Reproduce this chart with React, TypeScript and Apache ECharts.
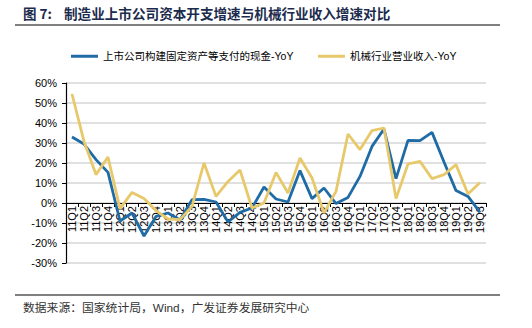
import React, { useEffect, useRef } from "react";
import * as echarts from "echarts";

const categories = [
  "11Q1", "11Q2", "11Q3", "11Q4",
  "12Q1", "12Q2", "12Q3", "12Q4",
  "13Q1", "13Q2", "13Q3", "13Q4",
  "14Q1", "14Q2", "14Q3", "14Q4",
  "15Q1", "15Q2", "15Q3", "15Q4",
  "16Q1", "16Q2", "16Q3", "16Q4",
  "17Q1", "17Q2", "17Q3", "17Q4",
  "18Q1", "18Q2", "18Q3", "18Q4",
  "19Q1", "19Q2", "19Q3",
];

const capexName = "上市公司构建固定资产等支付的现金-YoY";
const revenueName = "机械行业营业收入-YoY";

const capexYoY = [
  33, 29.5, 21.7, 15.3,
  -9, -5, -16.5, -6.7,
  -5, -8.5, 1.7, 1.8,
  0.5, -9.5, -4.7, -2.5,
  8, 2, 0.5, 16.2,
  2.2, 7.5, -0.3, 2.8,
  13.3, 28.3, 37, 12.2,
  31.3, 31.2, 35.3, 20.5,
  6.2, 3.3, -4.7,
];

const revenueYoY = [
  54.5, 30.8, 14.2, 23,
  -2.8, 5.3, 2.2, -3.8,
  -8, -8.3, -1.7, 20,
  3.3, 10.8, 16.5, -2.5,
  0, 15.3, 5, 22.5,
  12.5, -5, 5.8, 34.5,
  26.7, 36.2, 37.5, 2.2,
  19.5, 20.8, 12.2, 14.2,
  19.2, 4.5, 10.3,
];

const yTicks = { min: -30, max: 60, interval: 10 };

const FONT = "'Liberation Sans', Arial, 'Noto Sans CJK SC', sans-serif";
const BLUE = "#1F6BA6";
const YELLOW = "#E7C96C";

const GRID_TOP = 83;
const GRID_BOTTOM = 65;
const CHART_H = 328;

export default function App() {
  const ref = useRef<HTMLDivElement>(null);

  useEffect(() => {
    if (!ref.current) return;
    const chart = echarts.init(ref.current, undefined, { renderer: "svg" });
    const plotH = CHART_H - GRID_TOP - GRID_BOTTOM;
    // move the category axis up to the zero value line
    const zeroOffset = -plotH * (0 - yTicks.min) / (yTicks.max - yTicks.min);
    const legendBase = {
      top: 51,
      itemWidth: 27,
      itemHeight: 3,
      itemGap: 5,
      icon: "rect",
      padding: 0,
      textStyle: { fontSize: 10.5, color: "#000", fontFamily: FONT },
    };
    chart.setOption({
      animation: false,
      backgroundColor: "#fff",
      textStyle: { fontFamily: FONT },
      legend: [
        { ...legendBase, left: 71, data: [capexName] },
        { ...legendBase, left: 318, data: [revenueName] },
      ],
      grid: { left: 66, right: 46, top: GRID_TOP, bottom: GRID_BOTTOM, containLabel: false },
      xAxis: {
        type: "category",
        data: categories,
        boundaryGap: true,
        position: "bottom",
        offset: zeroOffset,
        axisLine: { onZero: false, lineStyle: { color: "#000", width: 1.2 } },
        axisTick: { show: true, length: 4, inside: false, lineStyle: { color: "#000" } },
        axisLabel: {
          rotate: 90,
          interval: 0,
          fontSize: 11,
          color: "#000",
          margin: 3,
          fontFamily: FONT,
        },
        splitLine: { show: false },
        z: 1,
      },
      yAxis: {
        type: "value",
        min: yTicks.min,
        max: yTicks.max,
        interval: yTicks.interval,
        axisLine: { show: true, lineStyle: { color: "#000", width: 1.2 } },
        axisTick: { show: true, length: 4, lineStyle: { color: "#000" } },
        axisLabel: {
          formatter: "{value}%",
          fontSize: 11,
          color: "#000",
          margin: 9,
          fontFamily: FONT,
        },
        splitLine: { show: true, lineStyle: { color: "#D6D6D6", width: 1.5 } },
      },
      series: [
        {
          name: capexName,
          type: "line",
          data: capexYoY,
          symbol: "none",
          color: BLUE,
          z: 3,
          lineStyle: { color: BLUE, width: 2.8 },
        },
        {
          name: revenueName,
          type: "line",
          data: revenueYoY,
          symbol: "none",
          color: YELLOW,
          z: 3,
          lineStyle: { color: YELLOW, width: 2.8 },
        },
      ],
      graphic: [
        {
          type: "text",
          left: 23,
          top: 6,
          style: {
            text: "图 7:",
            fontSize: 13.5,
            fontWeight: "bold",
            fill: "#1B2B4D",
            fontFamily: "'Noto Sans CJK SC', sans-serif",
          },
        },
        {
          type: "text",
          left: 64,
          top: 6,
          style: {
            text: "制造业上市公司资本开支增速与机械行业收入增速对比",
            fontSize: 13.6,
            fontWeight: "bold",
            fill: "#1B2B4D",
            fontFamily: "'Noto Sans CJK SC', sans-serif",
          },
        },
        {
          type: "line",
          shape: { x1: 15, y1: 25, x2: 500, y2: 25 },
          style: { stroke: "#000", lineWidth: 1.2 },
        },
        {
          type: "line",
          shape: { x1: 15, y1: 295, x2: 500, y2: 295 },
          style: { stroke: "#000", lineWidth: 1.2 },
        },
        {
          type: "text",
          left: 23,
          top: 302,
          style: {
            text: "数据来源：国家统计局，Wind，广发证券发展研究中心",
            fontSize: 11.8,
            fill: "#333",
            fontFamily: FONT,
          },
        },
      ],
    });
    return () => chart.dispose();
  }, []);

  return (
    <div
      ref={ref}
      style={{ position: "fixed", left: 0, top: 0, width: 532, height: 328, background: "#fff" }}
    />
  );
}
